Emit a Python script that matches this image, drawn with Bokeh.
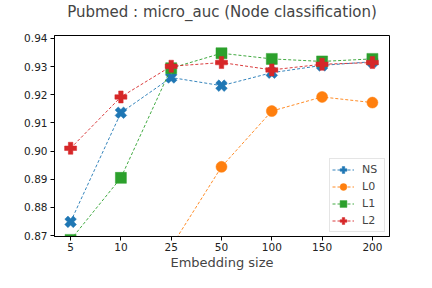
from bokeh.plotting import figure
from bokeh.models import Range1d, FixedTicker, PrintfTickFormatter, Legend, LegendItem, Title
from bokeh.embed import file_html
from bokeh.resources import INLINE

sizes = ["5", "10", "25", "50", "100", "150", "200"]
ns = [0.8749, 0.9136, 0.9261, 0.9232, 0.9278, 0.9304, 0.9317]
l0 = [None, None, 0.8661, 0.8944, 0.9142, 0.9192, 0.9172]
l1 = [0.8685, 0.8905, 0.9294, 0.9347, 0.9327, 0.9318, 0.9327]
l2 = [0.9010, 0.9192, 0.9301, 0.9314, 0.9288, 0.9308, 0.9314]
yticks = [0.87, 0.88, 0.89, 0.90, 0.91, 0.92, 0.93, 0.94]

idx = list(range(len(sizes)))

p = figure(width=416, height=272, output_backend="svg", toolbar_location=None,
           x_range=Range1d(-0.32, 6.34), y_range=Range1d(0.8697, 0.9410),
           min_border_left=54, min_border_right=27, min_border_top=0, min_border_bottom=0)
p.border_fill_color = "white"
p.title.text = "Pubmed : micro_auc (Node classification)"
p.title.align = "center"
p.title.text_font = "DejaVu Sans"
p.title.text_font_size = "15px"
p.title.text_font_style = "normal"
p.title.standoff = 1
p.add_layout(Title(text=" ", text_font_size="11px", standoff=0), "above")

p.xgrid.visible = False
p.ygrid.visible = False
p.outline_line_color = "black"
p.outline_line_width = 1

for ax in (p.xaxis[0], p.yaxis[0]):
    ax.axis_line_color = "black"
    ax.major_tick_line_color = "black"
    ax.major_tick_out = 4
    ax.major_tick_in = 0
    ax.minor_tick_line_color = None
    ax.major_label_text_font = "DejaVu Sans"
    ax.major_label_text_font_size = "10.5px"
    ax.major_label_text_color = "#222222"

p.xaxis.ticker = FixedTicker(ticks=idx)
p.xaxis.major_label_overrides = {i: s for i, s in enumerate(sizes)}
p.xaxis.axis_label = "Embedding size"
p.xaxis.axis_label_text_font = "DejaVu Sans"
p.xaxis.axis_label_text_font_size = "13px"
p.xaxis.axis_label_text_font_style = "normal"
p.xaxis.axis_label_standoff = 1
p.xaxis.major_label_standoff = 2
p.yaxis.ticker = FixedTicker(ticks=yticks)
p.yaxis.formatter = PrintfTickFormatter(format="%.2f")
p.yaxis.major_label_standoff = 3

series = [
    ("NS", ns, "#1f77b4", "plus", 0.785398, 12),
    ("L0", l0, "#ff7f0e", "circle", 0, 11),
    ("L1", l1, "#2ca02c", "square", 0, 11),
    ("L2", l2, "#d62728", "plus", 0, 12),
]
items = []
for name, vals, color, marker, ang, sz in series:
    xs = [i for i, v in zip(idx, vals) if v is not None]
    ys = [v for v in vals if v is not None]
    lr = p.line(xs, ys, line_color=color, line_width=0.9, line_dash="3 2")
    sr = p.scatter(xs, ys, marker=marker, size=sz, angle=ang, fill_color=color,
                   line_color=color, line_width=0.5)
    items.append(LegendItem(label=name, renderers=[lr, sr]))

legend = Legend(items=items, location="bottom_right")
legend.label_text_font = "DejaVu Sans"
legend.label_text_font_size = "11px"
legend.label_standoff = 8
legend.glyph_width = 22
legend.glyph_height = 17
legend.spacing = 0
legend.padding = 2
legend.margin = 4
legend.border_line_color = "#cccccc"
legend.border_line_width = 1
legend.background_fill_alpha = 0.8
p.add_layout(legend, "center")

open("out.html", "w").write(file_html(p, INLINE))
